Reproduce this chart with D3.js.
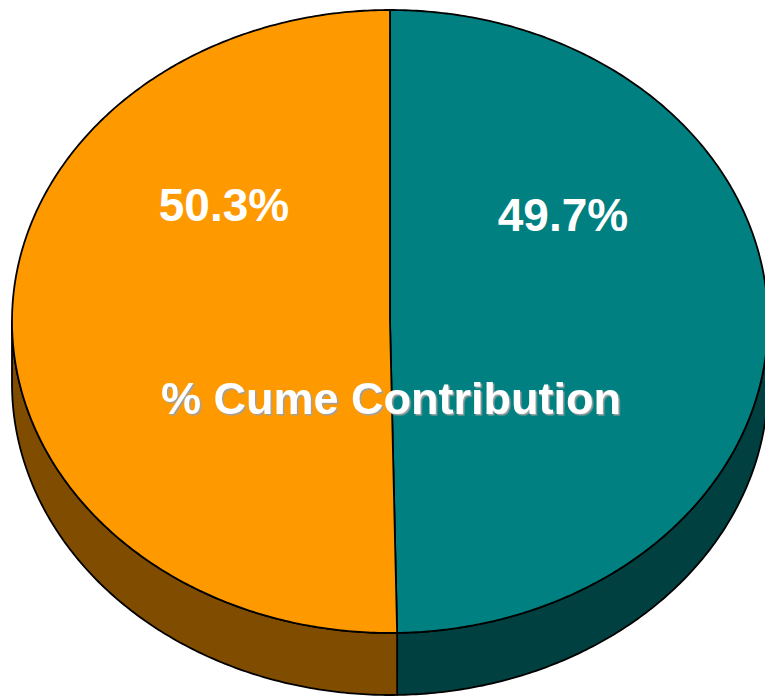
<!DOCTYPE html>
<html>
<head>
<meta charset="utf-8">
<script src="https://cdn.jsdelivr.net/npm/d3@7"></script>
<style>
  html, body { margin: 0; padding: 0; background: #fff; }
  svg { display: block; }
</style>
</head>
<body>
<svg id="chart" width="765" height="697"></svg>
<script>
// Share of cumulative contribution, two segments, clockwise from 12 o'clock
const categories = ["Segment A", "Segment B"];
const values = [49.7, 50.3];
const labels = ["49.7%", "50.3%"];
const topColors = ["#008080", "#FF9900"];
const sideColors = ["#004040", "#804C00"];
const title = "% Cume Contribution";

const W = 765, H = 697;
const cx = 390, cy = 321.5, rx = 378, ry = 311.5, depth = 62;

const svg = d3.select("#chart");

// soft grey drop shadow for the centre title
const defs = svg.append("defs");
defs.append("filter")
  .attr("id", "titleShadow")
  .attr("x", "-5%").attr("y", "-20%").attr("width", "110%").attr("height", "140%")
  .append("feDropShadow")
  .attr("dx", 1.5).attr("dy", 1.5).attr("stdDeviation", 0.4)
  .attr("flood-color", "#a0a0a0").attr("flood-opacity", 1);

const pie = d3.pie().sort(null).value(d => d.value);
const arcs = pie(categories.map((c, i) => ({ name: c, value: values[i], i })));

// elliptical projection of a pie angle (clockwise from top)
const px = a => cx + rx * Math.sin(a);
const py = a => cy - ry * Math.cos(a);

function rimPoints(a0, a1, dy) {
  const n = Math.max(2, Math.ceil(Math.abs(a1 - a0) / 0.01));
  return d3.range(n + 1).map(k => {
    const a = a0 + (a1 - a0) * k / n;
    return [px(a), py(a) + dy];
  });
}

const line = d3.line();

// side walls: only the front half (angles between pi/2 and 3pi/2) is visible
const sides = svg.append("g");
arcs.forEach(d => {
  const a0 = Math.max(d.startAngle, Math.PI / 2);
  const a1 = Math.min(d.endAngle, 3 * Math.PI / 2);
  if (a1 <= a0) return;
  const pts = rimPoints(a0, a1, 0).concat(rimPoints(a1, a0, depth));
  sides.append("path")
    .attr("d", line(pts) + "Z")
    .attr("fill", sideColors[d.data.i])
    .attr("stroke", "#000")
    .attr("stroke-width", 1.8)
    .attr("stroke-linejoin", "round");
});

// top faces
const tops = svg.append("g");
arcs.forEach(d => {
  const pts = [[cx, cy]].concat(rimPoints(d.startAngle, d.endAngle, 0));
  tops.append("path")
    .attr("d", line(pts) + "Z")
    .attr("fill", topColors[d.data.i])
    .attr("stroke", "#000")
    .attr("stroke-width", 1.8)
    .attr("stroke-linejoin", "round");
});

// value labels
const labelPos = [[563, 231], [224, 221]];
arcs.forEach(d => {
  svg.append("text")
    .attr("x", labelPos[d.data.i][0])
    .attr("y", labelPos[d.data.i][1])
    .attr("text-anchor", "middle")
    .attr("font-family", "Liberation Sans, Arial, sans-serif")
    .attr("font-weight", "bold")
    .attr("font-size", 46)
    .attr("fill", "#fff")
    .text(labels[d.data.i]);
});

// centre title
svg.append("text")
  .attr("x", 391)
  .attr("y", 414)
  .attr("text-anchor", "middle")
  .attr("font-family", "Liberation Sans, Arial, sans-serif")
  .attr("font-weight", "bold")
  .attr("font-size", 45)
  .attr("fill", "#fff")
  .attr("filter", "url(#titleShadow)")
  .text(title);
</script>
</body>
</html>
